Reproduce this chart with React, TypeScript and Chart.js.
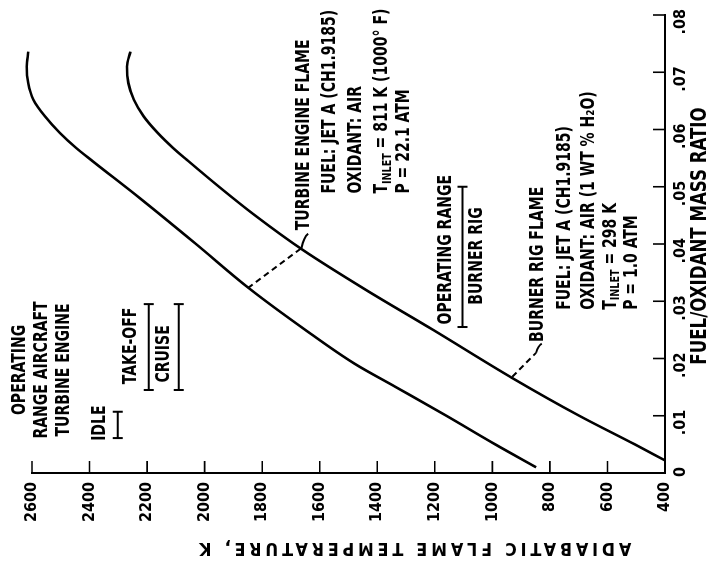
import React, { useEffect, useRef } from "react";
import { Chart, registerables } from "chart.js";

Chart.register(...registerables);

// ---------- data ----------
const turbineRatio = [0.001, 0.005, 0.01, 0.015, 0.0191, 0.025, 0.0322, 0.04, 0.048, 0.0545, 0.0568, 0.0594, 0.0623, 0.0652, 0.0681, 0.071, 0.0736];
const turbineTemp = [848, 990, 1160, 1335, 1479, 1650, 1844, 2030, 2225, 2390, 2447, 2503, 2555, 2595, 2613, 2618, 2613];

const burnerRatio = [0.0022, 0.005, 0.01, 0.0166, 0.025, 0.032, 0.039, 0.045, 0.05, 0.0545, 0.0568, 0.0594, 0.0623, 0.0652, 0.0681, 0.071, 0.0736];
const burnerTemp = [400, 505, 698, 931, 1206, 1440, 1660, 1825, 1950, 2057, 2110, 2163, 2212, 2246, 2265, 2270, 2258];

const ratioTickValues = [0, 0.01, 0.02, 0.03, 0.04, 0.05, 0.06, 0.07, 0.08];
const ratioTickLabels = ["0", ".01", ".02", ".03", ".04", ".05", ".06", ".07", ".08"];
const tempTickValues = [400, 600, 800, 1000, 1200, 1400, 1600, 1800, 2000, 2200, 2400, 2600];
const tempTickLabels = ["400", "600", "800", "1000", "1200", "1400", "1600", "1800", "2000", "2200", "2400", "2600"];

// operating ranges (fuel/oxidant ratio spans)
const rangeNames = ["IDLE", "TAKE-OFF", "CRUISE", "BURNER RIG"];
const rangeFrom = [0.0061, 0.0145, 0.0145, 0.0255];
const rangeTo = [0.0107, 0.0295, 0.0295, 0.05];

// ---------- layout (kept apart from the data) ----------
const W = 574; // unrotated canvas width
const H = 715; // unrotated canvas height
const FONT = "'DejaVu Sans Condensed', 'DejaVu Sans', sans-serif";
const SQUEEZE = 0.82; // horizontal condensing of the lettering

const rangeBarTemp = [2302, 2194, 2090, 1104];

type Part = [string, boolean?];
type Note = { parts: Part[]; r: number; t: number; align: CanvasTextAlign; size?: number };

const notes: Note[] = [
  { parts: [["OPERATING"]], r: 0.018, t: 2641, align: "center" },
  { parts: [["RANGE AIRCRAFT"]], r: 0.018, t: 2564, align: "center" },
  { parts: [["TURBINE ENGINE"]], r: 0.018, t: 2488, align: "center" },
  { parts: [["IDLE"]], r: 0.0087, t: 2364, align: "center" },
  { parts: [["TAKE-OFF"]], r: 0.0222, t: 2256, align: "center" },
  { parts: [["CRUISE"]], r: 0.0208, t: 2142, align: "center" },
  { parts: [["OPERATING RANGE"]], r: 0.039, t: 1160, align: "center" },
  { parts: [["BURNER RIG"]], r: 0.0379, t: 1052, align: "center" },

  { parts: [["TURBINE ENGINE FLAME"]], r: 0.0424, t: 1653, align: "left" },
  { parts: [["FUEL: JET A (CH1.9185)"]], r: 0.0488, t: 1563, align: "left" },
  { parts: [["OXIDANT: AIR"]], r: 0.0488, t: 1473, align: "left" },
  { parts: [["T"], ["INLET", true], [" = 811 K (1000° F)"]], r: 0.0488, t: 1382, align: "left" },
  { parts: [["P = 22.1 ATM"]], r: 0.0488, t: 1306, align: "left" },

  { parts: [["BURNER RIG FLAME"]], r: 0.0229, t: 841, align: "left" },
  { parts: [["FUEL: JET A (CH1.9185)"]], r: 0.0285, t: 747, align: "left" },
  { parts: [["OXIDANT: AIR (1 WT % H₂O)"]], r: 0.0285, t: 664, align: "left" },
  { parts: [["T"], ["INLET", true], [" = 298 K"]], r: 0.0285, t: 588, align: "left" },
  { parts: [["P = 1.0 ATM"]], r: 0.0285, t: 515, align: "left" },
];

// leader lines: dashed part then solid hook (ratio, temperature)
const leaders = [
  { dash: [[0.0323, 1850], [0.0393, 1663]], hook: [[0.0393, 1663], [0.0412, 1655], [0.0418, 1640]] },
  { dash: [[0.0168, 931], [0.021, 848]], hook: [[0.021, 848], [0.0222, 842], [0.0226, 828]] },
];

function drawParts(ctx: CanvasRenderingContext2D, parts: Part[], x: number, y: number, align: CanvasTextAlign, size: number, squeeze = SQUEEZE) {
  const subSize = Math.round(size * 0.68);
  const widths = parts.map(([s, sub]) => {
    ctx.font = `bold ${sub ? subSize : size}px ${FONT}`;
    return ctx.measureText(s).width * squeeze;
  });
  const total = widths.reduce((a, b) => a + b, 0);
  let cx = align === "center" ? x - total / 2 : align === "right" ? x - total : x;
  ctx.textAlign = "left";
  ctx.textBaseline = "middle";
  parts.forEach(([s, sub], i) => {
    ctx.font = `bold ${sub ? subSize : size}px ${FONT}`;
    ctx.fillText(s, cx, sub ? y + 5 : y, widths[i]);
    cx += widths[i];
  });
}

const annotationPlugin = {
  id: "annotations",
  afterDatasetsDraw(chart: any) {
    const { ctx, chartArea: a, scales } = chart;
    const xs = scales.x;
    const ys = scales.y;
    const X = (r: number) => xs.getPixelForValue(r);
    const Y = (t: number) => ys.getPixelForValue(t);
    ctx.save();
    ctx.strokeStyle = "#000";
    ctx.fillStyle = "#000";

    // inward tick marks
    ctx.lineWidth = 1.6;
    ctx.beginPath();
    ratioTickValues.forEach((v) => {
      if (v === 0) return;
      const px = X(v);
      ctx.moveTo(px, a.bottom);
      ctx.lineTo(px, a.bottom - 12);
    });
    tempTickValues.forEach((v) => {
      const py = Y(v);
      ctx.moveTo(a.left, py);
      ctx.lineTo(a.left + 12, py);
    });
    ctx.stroke();

    // operating range bars
    ctx.lineWidth = 2;
    rangeNames.forEach((_, i) => {
      const y0 = Y(rangeBarTemp[i]);
      const x0 = X(rangeFrom[i]);
      const x1 = X(rangeTo[i]);
      ctx.beginPath();
      ctx.moveTo(x0, y0);
      ctx.lineTo(x1, y0);
      ctx.moveTo(x0, y0 - 5);
      ctx.lineTo(x0, y0 + 5);
      ctx.moveTo(x1, y0 - 5);
      ctx.lineTo(x1, y0 + 5);
      ctx.stroke();
    });

    // leaders
    leaders.forEach((l) => {
      ctx.lineWidth = 2;
      ctx.setLineDash([6, 4]);
      ctx.beginPath();
      ctx.moveTo(X(l.dash[0][0]), Y(l.dash[0][1]));
      ctx.lineTo(X(l.dash[1][0]), Y(l.dash[1][1]));
      ctx.stroke();
      ctx.setLineDash([]);
      ctx.beginPath();
      ctx.moveTo(X(l.hook[0][0]), Y(l.hook[0][1]));
      ctx.quadraticCurveTo(X(l.hook[1][0]), Y(l.hook[1][1]), X(l.hook[2][0]), Y(l.hook[2][1]));
      ctx.stroke();
    });

    // notes
    notes.forEach((n) => drawParts(ctx, n.parts, X(n.r), Y(n.t), n.align, n.size ?? 19));

    // axis titles
    drawParts(ctx, [["FUEL/OXIDANT MASS RATIO"]], X(0.0414), a.bottom + 35, "center", 22, 0.84);
    ctx.save();
    ctx.translate(a.left - 75, Y(1275));
    ctx.rotate(-Math.PI / 2);
    ctx.font = `bold 18px ${FONT}`;
    (ctx as any).letterSpacing = "4px";
    ctx.textAlign = "center";
    ctx.textBaseline = "middle";
    ctx.fillText("ADIABATIC FLAME TEMPERATURE, K", 0, 0, 436);
    ctx.restore();

    ctx.restore();
  },
};

export default function App() {
  const canvasRef = useRef<HTMLCanvasElement | null>(null);

  useEffect(() => {
    const canvas = canvasRef.current;
    if (!canvas) return;
    const line = {
      showLine: true,
      pointRadius: 0,
      borderColor: "#000",
      backgroundColor: "#000",
      borderWidth: 2.6,
      cubicInterpolationMode: "monotone" as const,
      clip: false as const,
    };
    const chart = new Chart(canvas, {
      type: "scatter",
      data: {
        datasets: [
          { ...line, label: "Turbine engine flame", data: turbineRatio.map((r, i) => ({ x: r, y: turbineTemp[i] })) },
          { ...line, label: "Burner rig flame", data: burnerRatio.map((r, i) => ({ x: r, y: burnerTemp[i] })) },
        ],
      },
      options: {
        animation: false,
        responsive: false,
        devicePixelRatio: 1,
        layout: { padding: { top: 32, right: 15, left: 0, bottom: 0 } },
        plugins: { legend: { display: false }, tooltip: { enabled: false } },
        scales: {
          x: {
            type: "linear",
            position: "bottom",
            min: 0,
            max: 0.08,
            grid: { display: false, drawTicks: false },
            border: { display: true, color: "#000", width: 2 },
            afterBuildTicks: (s: any) => {
              s.ticks = ratioTickValues.map((v) => ({ value: v }));
            },
            afterFit: (s: any) => {
              s.height = 50;
              s.paddingLeft = 0;
              s.paddingRight = 0;
            },
            ticks: {
              color: "#000",
              font: { family: FONT, size: 16, weight: "bold" },
              padding: 6,
              maxRotation: 0,
              minRotation: 0,
              align: "end",
              labelOffset: 6,
              callback: (_v: any, i: number) => ratioTickLabels[i],
            },
          },
          y: {
            type: "linear",
            position: "left",
            min: 400,
            max: 2600,
            grid: { display: false, drawTicks: false },
            border: { display: true, color: "#000", width: 2 },
            afterBuildTicks: (s: any) => {
              s.ticks = tempTickValues.map((v) => ({ value: v }));
            },
            afterFit: (s: any) => {
              s.width = 101;
              s.paddingTop = 0;
              s.paddingBottom = 0;
            },
            ticks: {
              color: "#000",
              font: { family: FONT, size: 16, weight: "bold" },
              padding: 9,
              callback: (_v: any, i: number) => tempTickLabels[i],
            },
          },
        },
      },
      plugins: [annotationPlugin],
    });
    return () => chart.destroy();
  }, []);

  return (
    <div style={{ position: "fixed", left: 0, top: 0, width: 715, height: 574, overflow: "hidden", background: "#fff" }}>
      <div
        style={{
          position: "absolute",
          left: 0,
          top: 0,
          width: W,
          height: H,
          transformOrigin: "0 0",
          transform: `translateY(${W}px) rotate(-90deg)`,
        }}
      >
        <canvas ref={canvasRef} width={W} height={H} style={{ display: "block", width: W, height: H }} />
      </div>
    </div>
  );
}
